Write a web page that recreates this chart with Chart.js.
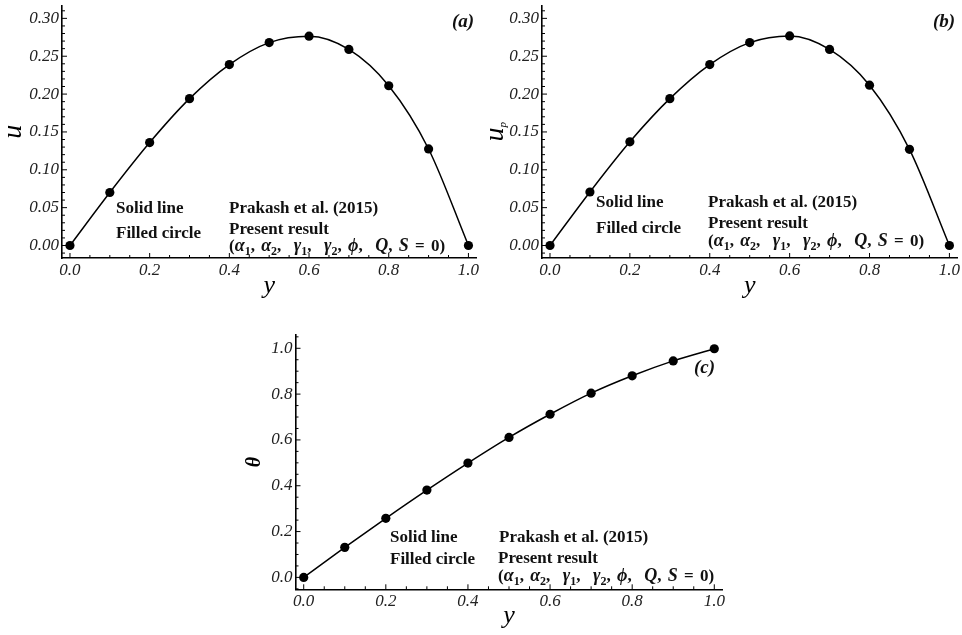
<!DOCTYPE html>
<html><head><meta charset="utf-8">
<script src="https://cdn.jsdelivr.net/npm/chart.js@4.4.1/dist/chart.umd.min.js"></script>
<style>
html,body{margin:0;padding:0;background:#fff;width:962px;height:635px;overflow:hidden}
.wrap{position:absolute}
.note{position:absolute;font-family:"Liberation Serif","Times New Roman",serif;font-weight:bold;font-size:17px;line-height:17px;white-space:nowrap;color:#111}
.note.f{word-spacing:2px}
.note.f i{font-size:18px}
.tag{position:absolute;font-family:"Liberation Serif","Times New Roman",serif;font-weight:bold;font-style:italic;font-size:19px;line-height:19px;white-space:nowrap;color:#111}
.note sub{font-size:12px;vertical-align:-4px;line-height:0}
</style></head><body>
<div class="wrap" style="left:0;top:0"><canvas id="ca" width="481" height="305"></canvas></div>
<div class="wrap" style="left:480px;top:0"><canvas id="cb" width="482" height="305"></canvas></div>
<div class="wrap" style="left:240px;top:325px"><canvas id="cc" width="490" height="310"></canvas></div>

<div class="note" style="left:116px;top:199px">Solid line</div>
<div class="note" style="left:116px;top:224px">Filled circle</div>
<div class="note" style="left:229px;top:198.5px">Prakash et al. (2015)</div>
<div class="note" style="left:229px;top:220px">Present result</div>
<div class="note f" style="left:229px;top:236.5px">(<i>α</i><sub>1</sub>, <i>α</i><sub>2</sub>,&nbsp; <i>γ</i><sub>1</sub>,&nbsp; <i>γ</i><sub>2</sub>, <i>ϕ</i>,&nbsp; <i>Q</i>, <i>S</i> = 0)</div>
<div class="tag" style="left:452px;top:10.6px">(a)</div>

<div class="note" style="left:596px;top:193px">Solid line</div>
<div class="note" style="left:596px;top:219px">Filled circle</div>
<div class="note" style="left:708px;top:192.5px">Prakash et al. (2015)</div>
<div class="note" style="left:708px;top:214px">Present result</div>
<div class="note f" style="left:708px;top:231.5px">(<i>α</i><sub>1</sub>, <i>α</i><sub>2</sub>,&nbsp; <i>γ</i><sub>1</sub>,&nbsp; <i>γ</i><sub>2</sub>, <i>ϕ</i>,&nbsp; <i>Q</i>, <i>S</i> = 0)</div>
<div class="tag" style="left:933px;top:10.6px">(<i>b</i>)</div>

<div class="note" style="left:390px;top:528px">Solid line</div>
<div class="note" style="left:390px;top:549.5px">Filled circle</div>
<div class="note" style="left:499px;top:527.5px">Prakash et al. (2015)</div>
<div class="note" style="left:498px;top:549px">Present result</div>
<div class="note f" style="left:498px;top:566.5px">(<i>α</i><sub>1</sub>, <i>α</i><sub>2</sub>,&nbsp; <i>γ</i><sub>1</sub>,&nbsp; <i>γ</i><sub>2</sub>, <i>ϕ</i>,&nbsp; <i>Q</i>, <i>S</i> = 0)</div>
<div class="tag" style="left:694px;top:357px">(<i>c</i>)</div>

<script>
// ---- data ----
const yPositions = [0, 0.1, 0.2, 0.3, 0.4, 0.5, 0.6, 0.7, 0.8, 0.9, 1.0];
const uPrakash   = [0, 0.070, 0.136, 0.194, 0.239, 0.268, 0.2765, 0.259, 0.211, 0.1275, 0];
const uPresent   = [0, 0.070, 0.136, 0.194, 0.239, 0.268, 0.2765, 0.259, 0.211, 0.1275, 0];
const upPrakash  = [0, 0.0707, 0.137, 0.194, 0.239, 0.268, 0.2768, 0.259, 0.2117, 0.127, 0];
const upPresent  = [0, 0.0707, 0.137, 0.194, 0.239, 0.268, 0.2768, 0.259, 0.2117, 0.127, 0];
const thPrakash  = [0, 0.131, 0.258, 0.381, 0.499, 0.611, 0.712, 0.804, 0.880, 0.945, 0.998];
const thPresent  = [0, 0.131, 0.258, 0.381, 0.499, 0.611, 0.712, 0.804, 0.880, 0.945, 0.998];
const xTickValues  = [0, 0.2, 0.4, 0.6, 0.8, 1.0];
const uTickValues  = [0, 0.05, 0.10, 0.15, 0.20, 0.25, 0.30];
const thTickValues = [0, 0.2, 0.4, 0.6, 0.8, 1.0];

const SERIF = '"Liberation Serif", "Times New Roman", serif';
const pts = (xs, ys) => xs.map((x, i) => ({x, y: ys[i]}));

const inTicks = {
  id: 'inTicks',
  beforeDatasetsDraw(chart, args, o) {
    const {ctx, chartArea: a, scales: {x, y}} = chart;
    ctx.save(); ctx.strokeStyle = '#000'; ctx.lineWidth = 1;
    const draw = (scale, step, major, horiz) => {
      const s = Math.ceil(scale.min / step - 1e-9), e = Math.floor(scale.max / step + 1e-9);
      for (let i = s; i <= e; i++) {
        const v = i * step;
        const isMaj = Math.abs(v / major - Math.round(v / major)) < 1e-6;
        const len = isMaj ? 5 : 3;
        const p = scale.getPixelForValue(v);
        ctx.beginPath();
        if (horiz) { ctx.moveTo(p, a.bottom); ctx.lineTo(p, a.bottom - len); }
        else { ctx.moveTo(a.left, p); ctx.lineTo(a.left + len, p); }
        ctx.stroke();
      }
    };
    draw(x, o.xStep, o.xMajor, true);
    draw(y, o.yStep, o.yMajor, false);
    ctx.restore();
  }
};

// y-axis title with a small subscript (e.g. u_p), drawn rotated beside the y scale
const subTitle = {
  id: 'subTitle',
  afterDraw(chart, args, o) {
    if (!o || !o.text) return;
    const {ctx, scales: {y}} = chart;
    const cy = (y.top + y.bottom) / 2;
    ctx.save();
    ctx.translate(y.left + o.baseX, cy);
    ctx.rotate(-Math.PI / 2);
    ctx.fillStyle = '#000';
    ctx.textBaseline = 'alphabetic';
    ctx.textAlign = 'left';
    const mainFont = 'italic ' + o.size + 'px ' + SERIF;
    const subFont = 'italic ' + o.subSize + 'px ' + SERIF;
    ctx.font = mainFont; const wm = ctx.measureText(o.text).width;
    ctx.font = subFont; const ws = ctx.measureText(o.sub).width;
    const x0 = -(wm + ws) / 2;
    ctx.font = mainFont; ctx.fillText(o.text, x0, 0);
    ctx.font = subFont; ctx.fillText(o.sub, x0 + wm, o.subDrop);
    ctx.restore();
  }
};

function makeChart(id, c) {
  return new Chart(document.getElementById(id), {
    type: 'scatter',
    data: { datasets: [
      { label: 'Solid line: Prakash et al. (2015)', data: pts(yPositions, c.line), showLine: true,
        pointRadius: 0, borderColor: '#000', borderWidth: 1.5, cubicInterpolationMode: 'monotone', order: 2 },
      { label: 'Filled circle: Present result', data: pts(yPositions, c.dots), showLine: false,
        pointRadius: 4.6, pointBackgroundColor: '#000', pointBorderColor: '#000', pointBorderWidth: 0, order: 1 }
    ]},
    options: {
      responsive: false, animation: false,
      layout: { padding: c.pad },
      plugins: { legend: { display: false }, tooltip: { enabled: false }, inTicks: c.ticks, subTitle: c.sub || {} },
      scales: {
        x: {
          type: 'linear', min: c.xmin, max: c.xmax,
          afterBuildTicks: s => { s.ticks = xTickValues.map(v => ({value: v})); },
          afterFit: s => { s.height = c.xh; s.paddingLeft = s.paddingRight = s.paddingTop = s.paddingBottom = 0; },
          ticks: { callback: v => Number(v).toFixed(1), font: {family: SERIF, style: 'italic', size: 17}, color: '#222', padding: 2, maxRotation: 0, autoSkip: false },
          grid: { display: false, drawTicks: false },
          border: { display: true, color: '#000', width: 1.6 },
          title: { display: true, text: 'y', color: '#000', font: {family: SERIF, style: 'italic', size: 26, lineHeight: 1}, padding: {top: 0, bottom: c.xtPad} }
        },
        y: {
          type: 'linear', min: c.ymin, max: c.ymax,
          afterBuildTicks: s => { s.ticks = c.yTicks.map(v => ({value: v})); },
          afterFit: s => { s.width = c.yw; s.paddingLeft = s.paddingRight = s.paddingTop = s.paddingBottom = 0; },
          ticks: { callback: v => Number(v).toFixed(c.yDec), font: {family: SERIF, style: 'italic', size: 17}, color: '#222', padding: 3, autoSkip: false },
          grid: { display: false, drawTicks: false },
          border: { display: true, color: '#000', width: 1.6 },
          title: { display: !!c.ytitle, text: c.ytitle || '', color: '#000', font: c.ytFont, padding: {top: c.ytPad, bottom: 0} }
        }
      }
    },
    plugins: [inTicks, subTitle]
  });
}

makeChart('ca', {
  line: uPrakash, dots: uPresent, yTicks: uTickValues, yDec: 2,
  xmin: -0.02, xmax: 1.02, ymin: -0.0165, ymax: 0.317,
  pad: {left: 0, right: 1, top: 5.5, bottom: 0}, xh: 47, yw: 62, xtPad: 6,
  ytitle: 'u', ytFont: {family: SERIF, style: 'italic', size: 28, lineHeight: 1}, ytPad: 0,
  ticks: {xStep: 0.05, xMajor: 0.2, yStep: 0.01, yMajor: 0.05}
});
makeChart('cb', {
  line: upPrakash, dots: upPresent, yTicks: uTickValues, yDec: 2,
  xmin: -0.02, xmax: 1.02, ymin: -0.0165, ymax: 0.317,
  pad: {left: 0, right: 2, top: 5.5, bottom: 0}, xh: 47, yw: 62, xtPad: 6,
  ytitle: '', ytFont: {family: SERIF, style: 'italic', size: 28, lineHeight: 1}, ytPad: 0,
  sub: {text: 'u', sub: 'p', size: 28, subSize: 11, baseX: 23, subDrop: 3},
  ticks: {xStep: 0.05, xMajor: 0.2, yStep: 0.01, yMajor: 0.05}
});
makeChart('cc', {
  line: thPrakash, dots: thPresent, yTicks: thTickValues, yDec: 1,
  xmin: -0.02, xmax: 1.02, ymin: -0.052, ymax: 1.058,
  pad: {left: 0, right: 7.5, top: 10, bottom: 0}, xh: 45.7, yw: 55.5, xtPad: 5.7,
  ytitle: 'θ', ytFont: {family: SERIF, style: 'italic', weight: 'bold', size: 20, lineHeight: 1}, ytPad: 5,
  ticks: {xStep: 0.05, xMajor: 0.2, yStep: 0.05, yMajor: 0.2}
});
</script>
</body></html>
